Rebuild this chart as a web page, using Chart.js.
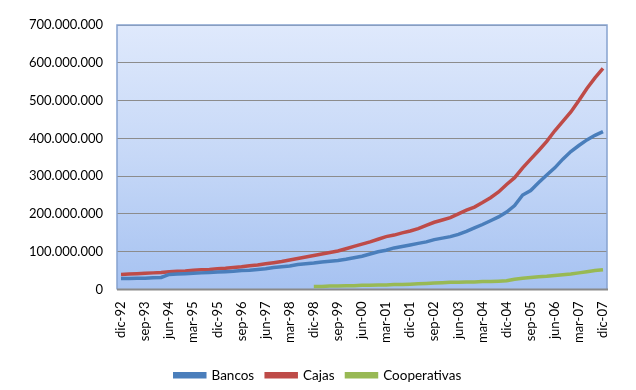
<!DOCTYPE html>
<html>
<head>
<meta charset="utf-8">
<script src="https://cdn.jsdelivr.net/npm/chart.js@4.4.1/dist/chart.umd.min.js"></script>
<style>
  html, body { margin: 0; padding: 0; background: #fff; }
  #wrap { width: 636px; height: 390px; }
</style>
</head>
<body>
<div id="wrap"><canvas id="chart"></canvas></div>
<script>
// quarterly, dic-92 .. dic-07
const quarters = [
    'dic-92',
    'mar-93', 'jun-93', 'sep-93', 'dic-93',
    'mar-94', 'jun-94', 'sep-94', 'dic-94',
    'mar-95', 'jun-95', 'sep-95', 'dic-95',
    'mar-96', 'jun-96', 'sep-96', 'dic-96',
    'mar-97', 'jun-97', 'sep-97', 'dic-97',
    'mar-98', 'jun-98', 'sep-98', 'dic-98',
    'mar-99', 'jun-99', 'sep-99', 'dic-99',
    'mar-00', 'jun-00', 'sep-00', 'dic-00',
    'mar-01', 'jun-01', 'sep-01', 'dic-01',
    'mar-02', 'jun-02', 'sep-02', 'dic-02',
    'mar-03', 'jun-03', 'sep-03', 'dic-03',
    'mar-04', 'jun-04', 'sep-04', 'dic-04',
    'mar-05', 'jun-05', 'sep-05', 'dic-05',
    'mar-06', 'jun-06', 'sep-06', 'dic-06',
    'mar-07', 'jun-07', 'sep-07', 'dic-07'
];

// millions of euros
const bancos = [
    29,
    29, 30, 30, 31,
    32, 40, 41, 42,
    43, 44, 45, 46,
    47, 48, 50, 51,
    53, 55, 58, 60,
    62, 66, 68, 70,
    73, 75, 77, 80,
    84, 88, 94, 100,
    104, 110, 114, 118,
    122, 126, 132, 136,
    140, 146, 154, 163,
    172, 182, 192, 205,
    222, 250, 262, 283,
    303, 322, 345, 365,
    381, 396, 408, 418
];

const cajas = [
    40,
    41, 42, 43, 44,
    45, 47, 48, 49,
    51, 52, 53, 55,
    56, 58, 60, 63,
    65, 68, 71, 74,
    78, 82, 86, 90,
    94, 98, 102, 108,
    114, 120, 126, 133,
    140, 144, 150, 155,
    161, 170, 178, 184,
    190, 200, 210, 218,
    230, 243, 258, 278,
    296, 322, 345, 368,
    392, 420, 445, 470,
    500, 532, 560, 585
];

const cooperativas = [
    null,
    null, null, null, null,
    null, null, null, null,
    null, null, null, null,
    null, null, null, null,
    null, null, null, null,
    null, null, null, 8,
    8, 9, 9, 10,
    10, 11, 11, 12,
    12, 13, 13, 14,
    15, 16, 17, 18,
    19, 19, 20, 20,
    21, 21, 22, 23,
    27, 30, 32, 34,
    35, 37, 39, 41,
    44, 47, 50, 52
];

const yTicks = [0, 100, 200, 300, 400, 500, 600, 700];

const FONT = 'Lato, "Open Sans", sans-serif';

function formatMillions(v) {
    if (v === 0) return '0';
    return (v * 1000000).toString().replace(/\B(?=(\d{3})+(?!\d))/g, '.');
}

const plotBackground = {
    id: 'plotBackground',
    beforeDraw(chart) {
        const { ctx, chartArea: a } = chart;
        const g = ctx.createLinearGradient(0, a.top, 0, a.bottom);
        g.addColorStop(0, '#dfe9fc');
        g.addColorStop(0.5, '#c6d8f7');
        g.addColorStop(1, '#a6c2f1');
        ctx.save();
        ctx.fillStyle = g;
        ctx.fillRect(a.left, a.top, a.right - a.left, a.bottom - a.top);
        ctx.restore();
    },
    beforeDatasetsDraw(chart) {
        const { ctx, chartArea: a } = chart;
        ctx.save();
        ctx.strokeStyle = '#86a2cf';
        ctx.lineWidth = 1.5;
        ctx.beginPath();
        ctx.moveTo(a.left, a.bottom);
        ctx.lineTo(a.left, a.top);
        ctx.lineTo(a.right, a.top);
        ctx.lineTo(a.right, a.bottom);
        ctx.stroke();
        ctx.strokeStyle = '#8a8a8a';
        ctx.lineWidth = 2;
        ctx.beginPath();
        ctx.moveTo(a.left, a.bottom);
        ctx.lineTo(a.right + 1, a.bottom);
        ctx.stroke();
        ctx.restore();
    }
};

function line(label, data, color) {
    return {
        label: label,
        data: data,
        borderColor: color,
        backgroundColor: color,
        borderWidth: 3.5,
        pointRadius: 0,
        tension: 0,
        fill: false
    };
}

new Chart(document.getElementById('chart'), {
    type: 'line',
    data: {
        labels: quarters,
        datasets: [
            line('Bancos', bancos, '#4a7ebb'),
            line('Cajas', cajas, '#be4b48'),
            line('Cooperativas', cooperativas, '#98b954')
        ]
    },
    plugins: [plotBackground],
    options: {
        responsive: true,
        maintainAspectRatio: false,
        animation: false,
        layout: { padding: { top: 25, right: 0, left: 0, bottom: -2 } },
        plugins: {
            tooltip: { enabled: false },
            legend: {
                position: 'bottom',
                labels: {
                    font: { family: FONT, size: 13.5 },
                    color: '#000',
                    boxWidth: 30,
                    boxHeight: 3,
                    padding: 12
                }
            }
        },
        scales: {
            x: {
                offset: true,
                afterFit(scale) { scale.height = 67; },
                grid: { display: false, drawTicks: false },
                border: { display: false },
                ticks: {
                    autoSkip: false,
                    minRotation: 90,
                    maxRotation: 90,
                    padding: 12,
                    color: '#000',
                    font: { family: FONT, size: 13 },
                    callback: function (value, index) {
                        return index % 3 === 0 ? quarters[index] : '';
                    }
                }
            },
            y: {
                min: 0,
                max: 700,
                afterFit(scale) { scale.width = 117; },
                afterBuildTicks(scale) {
                    scale.ticks = yTicks.map(v => ({ value: v }));
                },
                grid: {
                    color: '#8c8c8c',
                    lineWidth: 1,
                    drawTicks: false
                },
                border: { display: false },
                ticks: {
                    padding: 14,
                    color: '#000',
                    font: { family: FONT, size: 13 },
                    callback: v => formatMillions(v)
                }
            },
            // empty right gutter so the legend centres on the whole canvas
            yRight: {
                position: 'right',
                min: 0,
                max: 700,
                afterFit(scale) { scale.width = 29; },
                grid: { display: false, drawTicks: false },
                border: { display: false },
                ticks: { display: false }
            }
        }
    }
});
</script>
</body>
</html>
